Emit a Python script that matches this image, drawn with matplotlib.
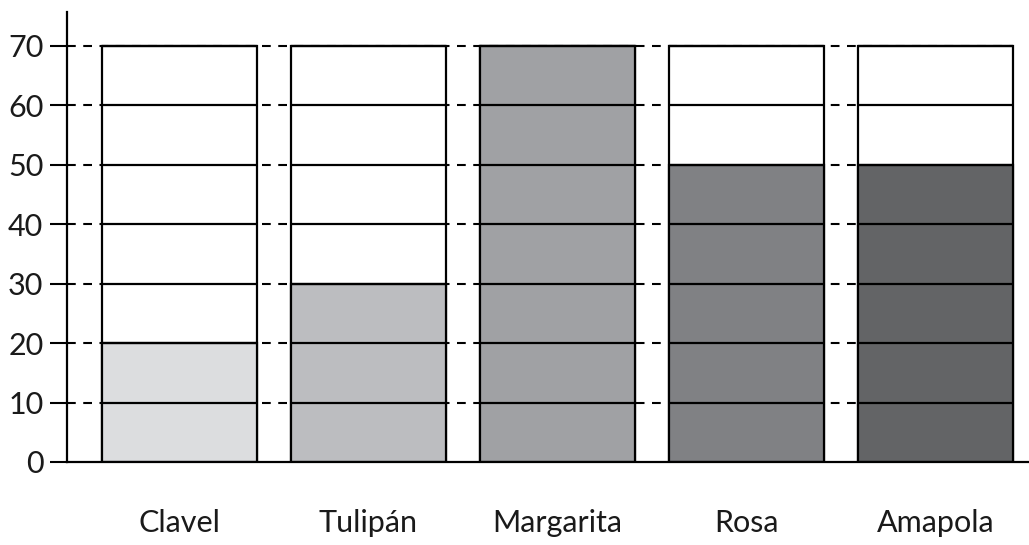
import matplotlib.pyplot as plt
import numpy as np

# =========================
# DATA
# =========================
flores = ['Clavel', 'Tulipán', 'Margarita', 'Rosa', 'Amapola']
valores = [20, 30, 70, 50, 50]
colores = ['#dcdddf', '#bcbdc0', '#a0a1a4', '#808184', '#636466']
niveles = [0, 10, 20, 30, 40, 50, 60, 70]

# =========================
# FIGURE
# =========================
plt.rcParams['font.family'] = ['Lato', 'DejaVu Sans']
fig = plt.figure(figsize=(10.29, 5.45), dpi=100)
ax = fig.add_axes([0.0651, 0.1523, 0.9349, 0.8257])

x = np.arange(len(flores))
ancho = 0.82
tope = max(niveles)
x_izq = -0.595

# dashed guides behind the columns, up to the last column
ax.hlines(niveles[1:], x_izq, x[-1] + ancho / 2, color='black', linewidth=1.5,
          linestyle=(0, (4.2, 3.6)), zorder=1)

# white column up to the top, then the coloured part
ax.bar(x, tope, width=ancho, color='white', edgecolor='black', linewidth=1.6, zorder=2)
ax.bar(x, valores, width=ancho, color=colores, edgecolor='black', linewidth=1.6, zorder=3)

# solid lines inside each column
for xi in x:
    ax.hlines(niveles[1:], xi - ancho / 2, xi + ancho / 2, color='black', linewidth=1.6, zorder=4)

ax.set_xlim(x_izq, 4.495)
ax.set_ylim(0, 75.7)

ax.set_yticks(niveles)
ax.set_xticks(x)
ax.set_xticklabels(flores)

ax.tick_params(axis='y', length=12, width=1.5, pad=5, labelsize=22, color='black', labelcolor='#1a1a1a')
ax.tick_params(axis='x', length=0, pad=34, labelsize=22, labelcolor='#1a1a1a')

for s in ['top', 'right']:
    ax.spines[s].set_visible(False)
ax.spines['left'].set_linewidth(1.6)
ax.spines['bottom'].set_linewidth(1.6)
ax.spines['bottom'].set_zorder(5)

fig.savefig('out.png', dpi=100)
